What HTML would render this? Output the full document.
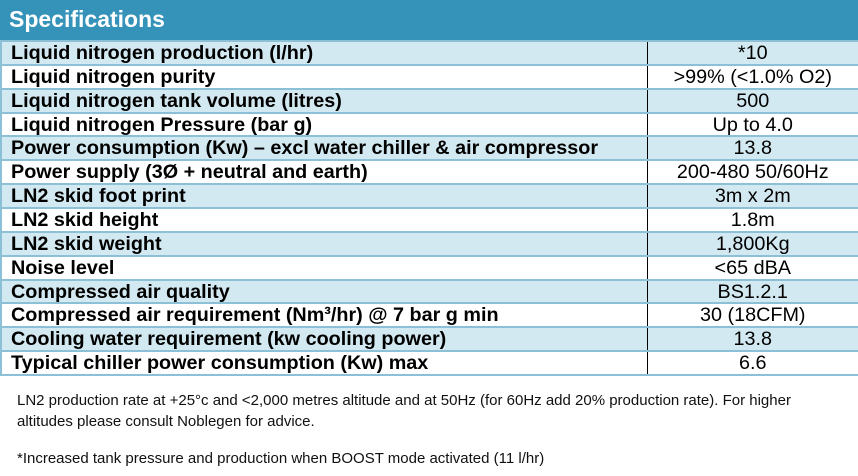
<!DOCTYPE html>
<html><head><meta charset="utf-8"><style>
body{margin:0;width:858px;height:476px;background:#fff;font-family:"Liberation Sans",sans-serif;overflow:hidden;position:relative}
.hdr{position:absolute;left:0;top:0;width:858px;height:40px;background:#3592b8;color:#fff;font-weight:bold;font-size:23px;line-height:38px;padding-left:9px;box-sizing:border-box}
table{position:absolute;left:0;top:40px;width:858px;border-collapse:collapse;table-layout:fixed}
td{height:23.86px;padding:0;border-top:2px solid #8cc0d6;font-size:19.8px;line-height:20px;color:#000;box-sizing:border-box;overflow:hidden}
tr:last-child td{border-bottom:2px solid #8cc0d6}
td.l{font-weight:bold;padding-left:9px;width:646px;border-left:2px solid #8cc0d6;border-right:1.5px solid #000;white-space:nowrap}
td.v{text-align:center;white-space:nowrap}
tr:nth-child(odd) td{background:#d3e9f1}
.note{position:absolute;left:17px;font-size:15px;color:#111;line-height:21px;white-space:nowrap}
</style></head><body>
<div class="hdr">Specifications</div>
<table>
<tr><td class="l">Liquid nitrogen production (l/hr)</td><td class="v">*10</td></tr>
<tr><td class="l">Liquid nitrogen purity</td><td class="v">&gt;99% (&lt;1.0% O2)</td></tr>
<tr><td class="l">Liquid nitrogen tank volume (litres)</td><td class="v">500</td></tr>
<tr><td class="l">Liquid nitrogen Pressure (bar g)</td><td class="v">Up to 4.0</td></tr>
<tr><td class="l">Power consumption (Kw) – excl water chiller &amp; air compressor</td><td class="v">13.8</td></tr>
<tr><td class="l">Power supply (3Ø + neutral and earth)</td><td class="v">200-480 50/60Hz</td></tr>
<tr><td class="l">LN2 skid foot print</td><td class="v">3m x 2m</td></tr>
<tr><td class="l">LN2 skid height</td><td class="v">1.8m</td></tr>
<tr><td class="l">LN2 skid weight</td><td class="v">1,800Kg</td></tr>
<tr><td class="l">Noise level</td><td class="v">&lt;65 dBA</td></tr>
<tr><td class="l">Compressed air quality</td><td class="v">BS1.2.1</td></tr>
<tr><td class="l">Compressed air requirement (Nm³/hr) @ 7 bar g min</td><td class="v">30 (18CFM)</td></tr>
<tr><td class="l">Cooling water requirement (kw cooling power)</td><td class="v">13.8</td></tr>
<tr><td class="l">Typical chiller power consumption (Kw) max</td><td class="v">6.6</td></tr>
</table>
<div class="note" style="top:390px">LN2 production rate at +25°c and &lt;2,000 metres altitude and at 50Hz (for 60Hz add 20% production rate). For higher<br>altitudes please consult Noblegen for advice.</div>
<div class="note" style="top:448px">*Increased tank pressure and production when BOOST mode activated (11 l/hr)</div>
</body></html>
